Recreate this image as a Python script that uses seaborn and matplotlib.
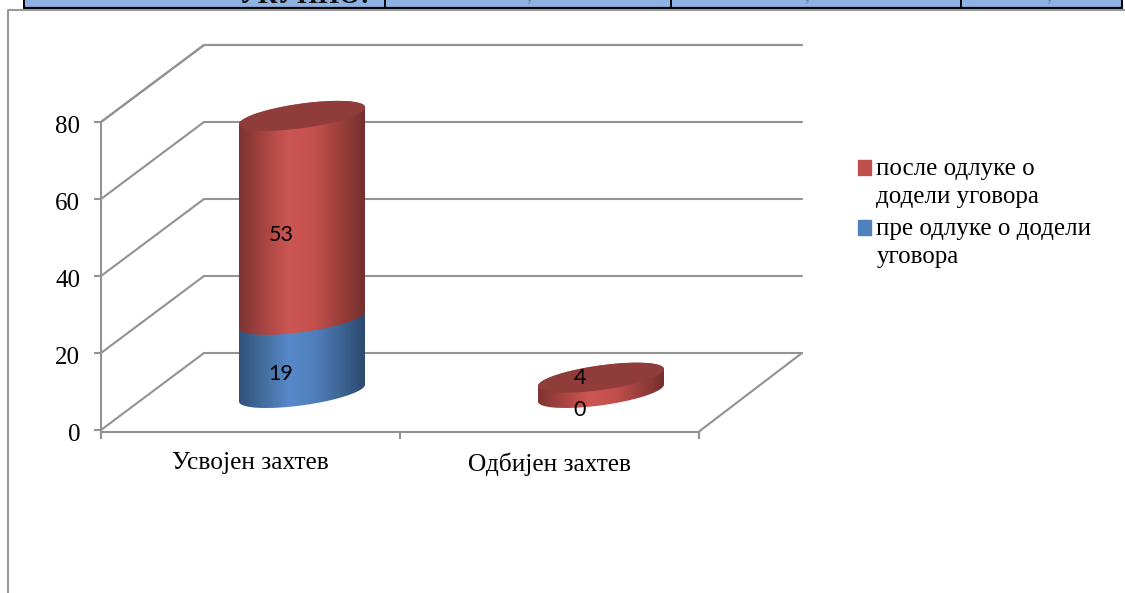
import matplotlib
matplotlib.use("Agg")
import matplotlib.pyplot as plt
import numpy as np
import pandas as pd
import seaborn as sns
from matplotlib.colors import LinearSegmentedColormap
from matplotlib.legend_handler import HandlerPatch
from matplotlib.patches import Patch, PathPatch, Rectangle
from matplotlib.path import Path
from matplotlib.transforms import ScaledTranslation

categories = ["Усвојен захтев", "Одбијен захтев"]
pre_decision = [19, 0]
post_decision = [53, 4]
y_ticks = [0, 20, 40, 60, 80]
legend_labels = ["после одлуке о\nдодели уговора", "пре одлуке о додели\nуговора"]

SERIF = "Liberation Serif"
GREY = "#929292"
DEPTH_X = 103 / 299  # depth of the fake 3d box, category units
DEPTH_Y = 20  # same, value units
LIFT = DEPTH_Y / 2 - 0.4  # cylinders stand at mid depth

sns.set_theme(style="white")
plt.rcParams["font.family"] = SERIF

red_map = LinearSegmentedColormap.from_list("red", ["#7e3431", "#a84542", "#cc5653", "#c4504d", "#9c403d", "#76302d"])
blue_map = LinearSegmentedColormap.from_list("blue", ["#31527d", "#44709f", "#5789ca", "#5080bb", "#3f6796", "#2c4a70"])

df = pd.DataFrame({"cat": categories, "pre": pre_decision, "post": post_decision})
df["total"] = df["pre"] + df["post"]

fig = plt.figure(figsize=(11.25, 5.93), dpi=100)

# page background: bottom of the table and the chart frame
bg = fig.add_axes([0, 0, 1, 1])
bg.set_xlim(0, 1125)
bg.set_ylim(593, 0)
bg.axis("off")
bg.add_patch(Rectangle((24, 0), 1098, 8, fc="#8db3e2", ec="none"))
bg.plot([24, 1122], [8, 8], color="black", lw=1.6)
for cell_x in [24, 385, 671, 961, 1122]:
    bg.plot([cell_x, cell_x], [0, 8], color="black", lw=1.4)
bg.text(370, 3, "УКУПНО:", ha="right", va="baseline", fontsize=19.5, fontweight="bold", color="#101010")
for mark_x in [529, 807, 1049]:
    bg.text(mark_x, 0, ",", ha="center", va="baseline", fontsize=14, color="#6f7f95")
bg.plot([8, 8, 1125], [593, 10, 10], color="#9a9a9a", lw=1.5)

ax = fig.add_axes([101 / 1125, 1 - 430 / 593, 701 / 1125, 385 / 593])
ax.patch.set_alpha(0)

sns.barplot(data=df, x="cat", y="total", color="#c0504d", width=126 / 299, saturation=1, ax=ax)
n_cat = len(categories)
sns.barplot(data=df, x="cat", y="pre", color="#4f81bd", width=126 / 299, saturation=1, ax=ax)
red_bars = ax.patches[:n_cat]
blue_bars = ax.patches[n_cat:]


def cylinder(bar, start, stop, cmap):
    # sheared ellipses, left side sits lower than the right
    cx = bar.get_x() + bar.get_width() / 2 + DEPTH_X / 2
    a = bar.get_width() / 2
    t = np.linspace(0, np.pi, 60)
    low = start + LIFT
    high = stop + LIFT
    shear, b = 2.2, 3.2
    xs = cx - a * np.cos(t)
    under = low - shear * np.cos(t) - b * np.sin(t)
    over = high - shear * np.cos(t) + b * np.sin(t)
    verts = list(zip(xs, under)) + list(zip(xs[::-1], over[::-1]))
    body = PathPatch(Path(verts + [verts[0]]), transform=ax.transData, fc="none", ec="none")
    ax.add_patch(body)
    im = ax.imshow(np.linspace(0, 1, 128)[None, :], cmap=cmap, aspect="auto", zorder=3,
                   extent=(cx - a, cx + a, low - 8, high + 8))
    im.set_clip_path(body)
    return cx, a, high, shear, b


def top_cap(cx, a, high, shear, b):
    t = np.linspace(0, 2 * np.pi, 120)
    ax.fill(cx - a * np.cos(t), high - shear * np.cos(t) + b * np.sin(t), color="#8f3c3a", lw=0, zorder=4)


for red, blue in zip(red_bars, blue_bars):
    red.set_visible(False)
    blue.set_visible(False)
    pre_h = blue.get_height()
    if pre_h > 0:
        cylinder(blue, 0, pre_h, blue_map)
    top_cap(*cylinder(red, pre_h, red.get_height(), red_map))

x0, x1 = -0.5, 1.5
# back wall and side wall lines
for v in y_ticks + [100 - DEPTH_Y]:
    ax.plot([x0 + DEPTH_X, x1 + DEPTH_X], [v + DEPTH_Y, v + DEPTH_Y], color=GREY, lw=1.5, zorder=1, clip_on=False)
    ax.plot([x0, x0 + DEPTH_X], [v, v + DEPTH_Y], color=GREY, lw=1.5, zorder=1, clip_on=False)
ax.plot([x1, x1 + DEPTH_X], [-0.4, DEPTH_Y], color=GREY, lw=1.5, zorder=1, clip_on=False)

ax.set_xlim(x0, x1 + DEPTH_X)
ax.set_ylim(0, 100)
sns.despine(ax=ax, top=True, right=True)
ax.spines["left"].set_bounds(0, 80)
ax.spines["bottom"].set_bounds(x0, x1)
ax.spines["bottom"].set_position(("outward", 1.4))
for side in ["left", "bottom"]:
    ax.spines[side].set_color(GREY)
    ax.spines[side].set_linewidth(1.5)
ax.set_xlabel("")
ax.set_ylabel("")
ax.set_yticks(y_ticks)
ax.tick_params(axis="y", left=True, length=5, width=1.5, color=GREY, labelsize=18, pad=10, labelcolor="black")
nudge = ScaledTranslation(0, -2 / 72, fig.dpi_scale_trans)
for label in ax.get_yticklabels():
    label.set_transform(label.get_transform() + nudge)
ax.set_xticks([x0, 0.5, x1])
ax.set_xticklabels([])
ax.tick_params(axis="x", bottom=True, length=5, width=1.5, color=GREY)
ax.set_xticks([0, 1], labels=categories, minor=True)
ax.tick_params(axis="x", which="minor", bottom=False, labelsize=18.3, pad=10.5, labelcolor="black")

# data labels, Excel puts them a bit in front of the cylinder
label_dx = DEPTH_X / 2 - 21 / 299
for i in range(n_cat):
    pre_v, post_v = pre_decision[i], post_decision[i]
    ax.text(i + label_dx, pre_v / 2 + 5.1, str(pre_v), family="Lato", fontsize=15.5, ha="center", va="center",
            color="black", zorder=6)
    post_y = pre_v + post_v / 2 + 5.1
    if post_v < 10:
        post_y += 6.5  # thin slice, label sits on the cap
    ax.text(i + label_dx, post_y, str(post_v), family="Lato", fontsize=15.5, ha="center", va="center",
            color="black", zorder=6)


def raised_square(legend, orig_handle, xdescent, ydescent, width, height, fontsize):
    # square next to the first line of the wrapped label
    return Rectangle((-xdescent, -ydescent + 11), width, height)


handles = [Patch(color="#c0504d"), Patch(color="#4f81bd")]
leg = fig.legend(handles, legend_labels, loc="upper left", bbox_to_anchor=(858 / 1125, 1 - 158 / 593), frameon=False,
                 fontsize=18, handlelength=0.52, handleheight=0.52, handletextpad=0.22, labelspacing=0.4,
                 labelcolor="black", borderpad=0, borderaxespad=0,
                 handler_map={Patch: HandlerPatch(patch_func=raised_square)})
for text in leg.get_texts():
    text.set_linespacing(1.35)

fig.savefig("out.png", dpi=100, facecolor="white")
